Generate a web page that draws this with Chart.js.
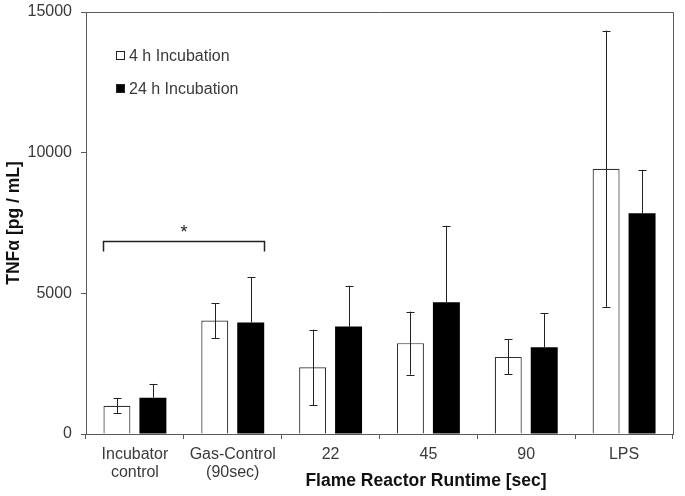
<!DOCTYPE html>
<html>
<head>
<meta charset="utf-8">
<script src="https://cdn.jsdelivr.net/npm/chart.js@4/dist/chart.umd.min.js"></script>
<style>
  html, body { margin: 0; padding: 0; background: #fff; }
  #wrap { width: 685px; height: 496px; position: relative; }
</style>
</head>
<body>
<div id="wrap"><canvas id="chart"></canvas></div>
<script>
const categories = [["Incubator", "control"], ["Gas-Control", "(90sec)"], "22", "45", "90", "LPS"];
const seriesNames = ["4 h Incubation", "24 h Incubation"];
const values4h = [1000, 4030, 2370, 3230, 2740, 9430];
const values24h = [1290, 3960, 3820, 4680, 3080, 7850];
const err4h = [270, 620, 1340, 1120, 620, 4910];
const err24h = [490, 1620, 1450, 2720, 1220, 1540];
const yTicks = [0, 5000, 10000, 15000];
// significance bracket: between category 0 and 1, at this TNF level
const sigPair = [0, 1];
const sigLevel = 6850;
const sigLabel = "*";

const FONT = "'Liberation Sans', Arial, sans-serif";
const TEXT = "#3a3a3a";
const AXIS = "#5a5a5a";

const extras = {
  id: "extras",
  afterDatasetsDraw(chart) {
    const ctx = chart.ctx;
    const y = chart.scales.y;
    const area = chart.chartArea;

    // error bars
    const errs = [err4h, err24h];
    const vals = [values4h, values24h];
    ctx.save();
    ctx.strokeStyle = "#222";
    ctx.lineWidth = 1;
    [0, 1].forEach((di) => {
      const meta = chart.getDatasetMeta(di);
      meta.data.forEach((bar, i) => {
        const x = Math.round(bar.x) + 0.5;
        const top = y.getPixelForValue(vals[di][i] + errs[di][i]);
        const bot = di === 0 ? y.getPixelForValue(vals[di][i] - errs[di][i]) : bar.y;
        ctx.beginPath();
        ctx.moveTo(x, top);
        ctx.lineTo(x, bot);
        ctx.moveTo(x - 4, Math.round(top) + 0.5);
        ctx.lineTo(x + 4, Math.round(top) + 0.5);
        if (di === 0) {
          ctx.moveTo(x - 4, Math.round(bot) + 0.5);
          ctx.lineTo(x + 4, Math.round(bot) + 0.5);
        }
        ctx.stroke();
      });
    });

    // box top and right
    ctx.strokeStyle = AXIS;
    ctx.beginPath();
    ctx.moveTo(area.left, area.top + 0.5);
    ctx.lineTo(area.right + 0.5, area.top + 0.5);
    ctx.lineTo(area.right + 0.5, area.bottom);
    ctx.stroke();

    // significance bracket
    const b0 = chart.getDatasetMeta(0).data[sigPair[0]];
    const b1 = chart.getDatasetMeta(1).data[sigPair[1]];
    const x0 = Math.round(b0.x - b0.width / 2) + 0.5;
    const x1 = Math.round(b1.x + b1.width / 2) + 0.5;
    const sy = Math.round(y.getPixelForValue(sigLevel)) + 0.5;
    ctx.strokeStyle = "#222";
    ctx.lineWidth = 1.5;
    ctx.beginPath();
    ctx.moveTo(x0, sy + 10);
    ctx.lineTo(x0, sy);
    ctx.lineTo(x1, sy);
    ctx.lineTo(x1, sy + 10);
    ctx.stroke();
    ctx.fillStyle = "#222";
    ctx.font = "18px " + FONT;
    ctx.textAlign = "center";
    ctx.textBaseline = "middle";
    ctx.fillText(sigLabel, (x0 + x1) / 2, sy - 8);

    // legend
    ctx.font = "16px " + FONT;
    ctx.textAlign = "left";
    ctx.lineWidth = 1;
    const fills = ["#fff", "#000"];
    seriesNames.forEach((name, i) => {
      const ly = 56 + i * 33;
      ctx.fillStyle = fills[i];
      ctx.fillRect(116.5, ly - 4.5, 8, 8);
      ctx.strokeStyle = "#222";
      ctx.strokeRect(116.5, ly - 4.5, 8, 8);
      ctx.fillStyle = TEXT;
      ctx.fillText(name, 129, ly + 1);
    });

    // axis titles
    ctx.fillStyle = "#111";
    ctx.font = "bold 17.5px " + FONT;
    ctx.textAlign = "center";
    ctx.fillText("Flame Reactor Runtime [sec]", 426, 481);
    ctx.save();
    ctx.translate(14, (area.top + area.bottom) / 2);
    ctx.rotate(-Math.PI / 2);
    ctx.fillText("TNF\u03b1 [pg / mL]", 0, 0);
    ctx.restore();
    ctx.restore();
  }
};

new Chart(document.getElementById("chart"), {
  type: "bar",
  plugins: [extras],
  data: {
    labels: categories,
    datasets: [
      {
        label: seriesNames[0],
        data: values4h,
        backgroundColor: "#ffffff",
        borderColor: "#333",
        borderWidth: 1.2
      },
      {
        label: seriesNames[1],
        data: values24h,
        backgroundColor: "#000000",
        borderColor: "#000000",
        borderWidth: 0
      }
    ]
  },
  options: {
    responsive: true,
    maintainAspectRatio: false,
    animation: false,
    categoryPercentage: 0.735,
    barPercentage: 0.75,
    layout: { padding: { top: 12, right: 12, left: 0, bottom: 0 } },
    plugins: {
      legend: { display: false },
      tooltip: { enabled: false }
    },
    scales: {
      x: {
        offset: true,
        grid: { display: true, drawOnChartArea: false, offset: true, tickLength: 5, color: AXIS },
        border: { color: AXIS, width: 1 },
        ticks: {
          color: TEXT,
          font: { family: FONT, size: 16, lineHeight: 1.15 },
          padding: 6,
          maxRotation: 0,
          autoSkip: false
        },
        afterFit(scale) {
          scale.height = 496 - 434;
          scale.paddingLeft = 0;
          scale.paddingRight = 0;
        }
      },
      y: {
        min: 0,
        max: 15000,
        afterBuildTicks(scale) { scale.ticks = yTicks.map((v) => ({ value: v })); },
        grid: { display: true, drawOnChartArea: false, tickLength: 5, color: AXIS },
        border: { color: AXIS, width: 1 },
        ticks: {
          color: TEXT,
          font: { family: FONT, size: 16 },
          padding: 9,
          callback: (v) => String(v)
        },
        afterFit(scale) {
          scale.width = 86;
          scale.paddingTop = 0;
          scale.paddingBottom = 0;
        }
      }
    }
  }
});
</script>
</body>
</html>
